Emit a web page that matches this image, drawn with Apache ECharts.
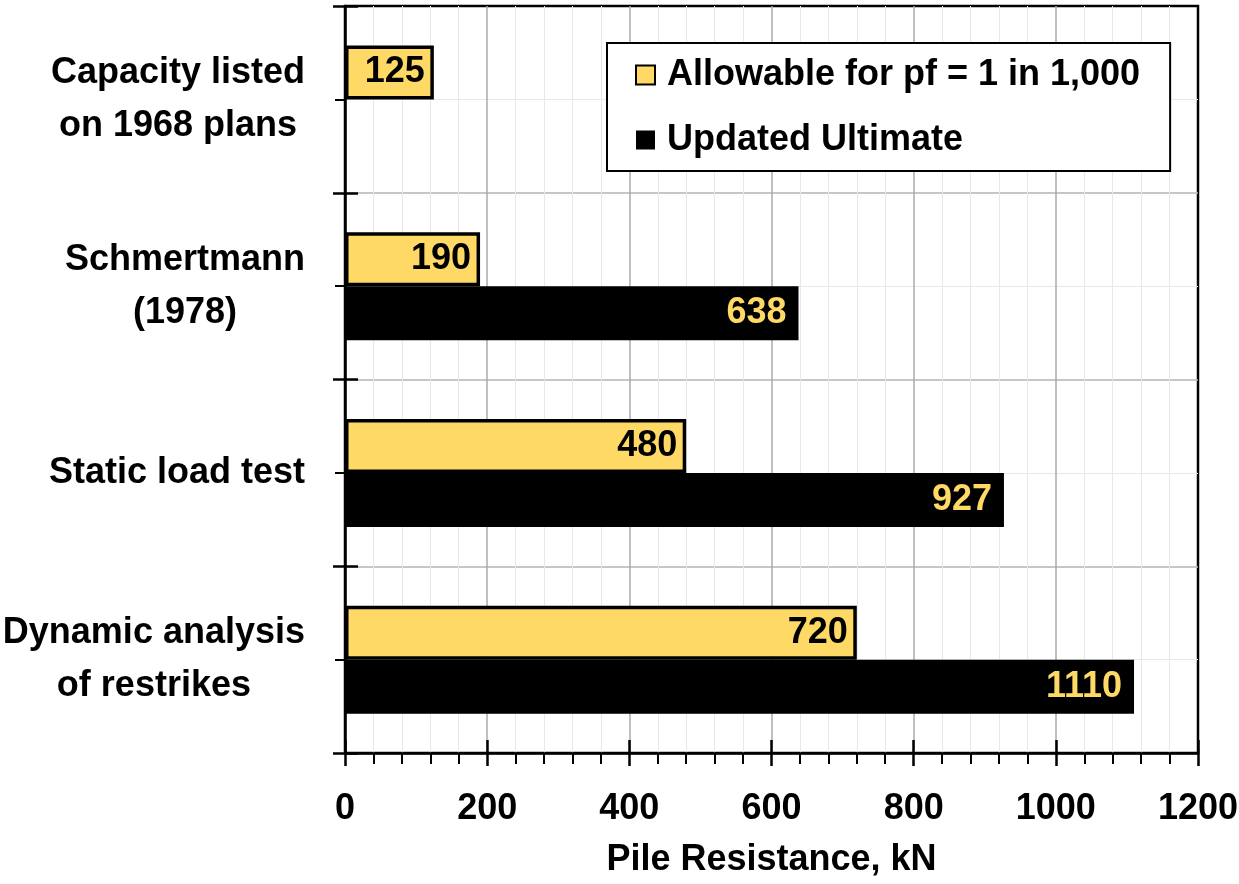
<!DOCTYPE html>
<html>
<head>
<meta charset="utf-8">
<script src="https://cdn.jsdelivr.net/npm/echarts@6/dist/echarts.min.js"></script>
<style>html,body{margin:0;padding:0;background:#fff}#c{width:1239px;height:884px}</style>
</head>
<body>
<div id="c"></div>
<script>
const categories = ['Capacity listed\non 1968 plans', 'Schmertmann\n(1978)', 'Static load test', 'Dynamic analysis\nof restrikes'];
const allowable = [125, 190, 480, 720];
const ultimate = [null, 638, 927, 1110];
const seriesNames = ['Allowable for pf = 1 in 1,000', 'Updated Ultimate'];
const xTicks = { min: 0, max: 1200, interval: 200 };
const xName = 'Pile Resistance, kN';

const FONT = "'Liberation Sans', Arial, sans-serif";
const FS = 36;
const YELLOW = '#FFD966';
const chart = echarts.init(document.getElementById('c'));
const nCat = categories.length;

chart.setOption({
  animation: false,
  backgroundColor: '#fff',
  grid: { left: 345, right: 41, top: 6, bottom: 131, show: true, borderColor: '#000', borderWidth: 2.5, containLabel: false, outerBoundsMode: 'none' },
  legend: {
    left: 607, top: 43, orient: 'vertical',
    data: seriesNames,
    icon: 'rect',
    itemWidth: 19, itemHeight: 19, itemGap: 17,
    backgroundColor: '#fff', borderColor: '#000', borderWidth: 2,
    padding: [8, 30, 7, 28],
    textStyle: { fontFamily: FONT, fontSize: FS, fontWeight: 'bold', color: '#000', lineHeight: 48, padding: [0, 0, 0, 7] }
  },
  xAxis: [
    {
      type: 'value', min: xTicks.min, max: xTicks.max, interval: xTicks.interval, position: 'bottom',
      name: xName, nameLocation: 'middle', nameGap: 89,
      nameTextStyle: { fontFamily: FONT, fontSize: FS, fontWeight: 'bold', color: '#000' },
      axisLine: { show: true, lineStyle: { color: '#000', width: 2.5 } },
      axisTick: { show: true, inside: false, length: 13, lineStyle: { color: '#000', width: 2.5 } },
      minorTick: { show: true, splitNumber: 5, length: 11, lineStyle: { color: '#000', width: 2 } },
      splitLine: { show: true, showMinLine: false, showMaxLine: false, lineStyle: { color: '#aaaaaa', width: 1.5 } },
      minorSplitLine: { show: true, lineStyle: { color: '#e8e8e8', width: 1 } },
      axisLabel: { fontFamily: FONT, fontSize: FS, fontWeight: 'bold', color: '#000', margin: 38, formatter: v => String(v) }
    },
    {
      type: 'value', min: xTicks.min, max: xTicks.max, interval: xTicks.interval, position: 'bottom',
      axisLine: { show: false },
      axisTick: { show: true, inside: true, length: 13, lineStyle: { color: '#000', width: 2.5 } },
      splitLine: { show: false }, axisLabel: { show: false }
    }
  ],
  yAxis: [
    {
      type: 'category', data: categories, inverse: true, position: 'left',
      axisLine: { show: true, lineStyle: { color: '#000', width: 2.5 } },
      axisTick: { show: true, alignWithLabel: true, length: 10, lineStyle: { color: '#000', width: 2 } },
      splitLine: { show: false },
      axisLabel: {
        margin: 40, align: 'right', color: '#000',
        formatter: v => v.split('\n').map(s => '{c|' + s + '}').join('\n'),
        rich: { c: { fontFamily: FONT, fontSize: FS, fontWeight: 'bold', color: '#000', lineHeight: 53, align: 'center' } }
      }
    },
    {
      type: 'value', min: 0, max: nCat * 2, interval: 2, position: 'left',
      axisLine: { show: false },
      axisTick: { show: true, inside: false, length: 12, lineStyle: { color: '#000', width: 2.5 } },
      minorTick: { show: false, splitNumber: 2 },
      splitLine: { show: true, showMinLine: false, showMaxLine: false, lineStyle: { color: '#b4b4b4', width: 1.5 } },
      minorSplitLine: { show: true, lineStyle: { color: '#e8e8e8', width: 1 } },
      axisLabel: { show: false }
    },
    {
      type: 'value', min: 0, max: nCat * 2, interval: 2, position: 'left',
      axisLine: { show: false },
      axisTick: { show: true, inside: true, length: 13, lineStyle: { color: '#000', width: 2.5 } },
      splitLine: { show: false }, axisLabel: { show: false }
    }
  ],
  series: [
    {
      name: seriesNames[0], type: 'bar', data: allowable, xAxisIndex: 0, yAxisIndex: 0,
      barWidth: 54, barGap: '0%',
      itemStyle: { color: YELLOW, borderColor: '#000', borderWidth: 3.5 },
      label: { show: true, position: 'insideRight', distance: 9, fontFamily: FONT, fontSize: FS, fontWeight: 'bold', color: '#000' },
      z: 3
    },
    {
      name: seriesNames[1], type: 'bar', data: ultimate, xAxisIndex: 0, yAxisIndex: 0,
      barWidth: 54, barGap: '0%',
      itemStyle: { color: '#000', borderColor: '#000', borderWidth: 0 },
      label: { show: true, position: 'insideRight', distance: 12, fontFamily: FONT, fontSize: FS, fontWeight: 'bold', color: YELLOW },
      z: 4
    }
  ]
});
</script>
</body>
</html>
